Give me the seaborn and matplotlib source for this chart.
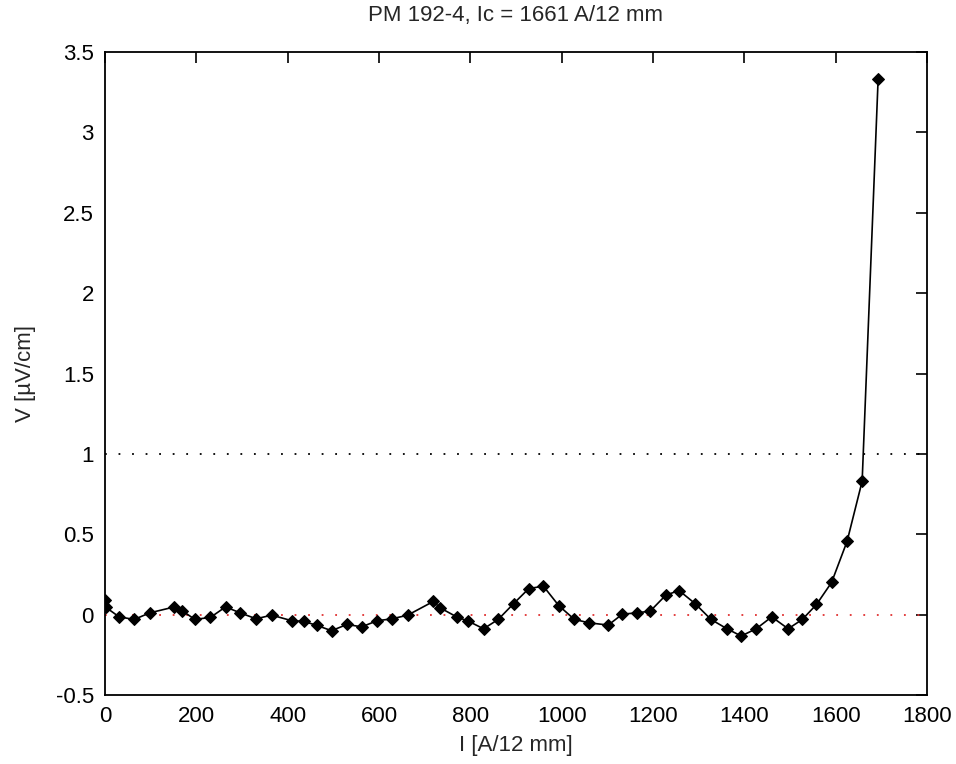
import matplotlib
matplotlib.use("Agg")
import matplotlib.pyplot as plt
import seaborn as sns
import pandas as pd

current = [0, 2, 31, 64, 98, 152, 169, 197, 231, 264, 296, 331, 365, 409, 435,
           464, 496, 530, 562, 596, 629, 663, 719, 734, 770, 795, 829, 861, 895,
           928, 960, 994, 1028, 1060, 1102, 1133, 1165, 1194, 1228, 1257, 1292,
           1327, 1362, 1393, 1426, 1460, 1496, 1527, 1558, 1591, 1625, 1658, 1693]
voltage = [0.094, 0.045, -0.014, -0.03, 0.011, 0.048, 0.024, -0.03, -0.017, 0.048,
           0.011, -0.026, -0.003, -0.038, -0.042, -0.067, -0.1, -0.061, -0.076,
           -0.038, -0.026, -0.003, 0.082, 0.042, -0.014, -0.04, -0.088, -0.03,
           0.069, 0.162, 0.177, 0.055, -0.03, -0.051, -0.065, 0.003, 0.011, 0.022,
           0.121, 0.15, 0.069, -0.03, -0.088, -0.133, -0.088, -0.014, -0.088,
           -0.03, 0.063, 0.2, 0.456, 0.83, 3.334]
criterion = 1.0
baseline = 0.0
x_ticks = [0, 200, 400, 600, 800, 1000, 1200, 1400, 1600, 1800]
y_ticks = [-0.5, 0, 0.5, 1, 1.5, 2, 2.5, 3, 3.5]
y_tick_labels = ["-0.5", "0", "0.5", "1", "1.5", "2", "2.5", "3", "3.5"]
title = "PM 192-4, Ic = 1661 A/12 mm"
xlabel = "I [A/12 mm]"
ylabel = "V [\u00b5V/cm]"

sns.set_style("white")
plt.rcParams['font.family'] = ['Liberation Sans', 'DejaVu Sans']
plt.rcParams['font.size'] = 16

df = pd.DataFrame({"I": current, "V": voltage})

fig = plt.figure(figsize=(9.56, 7.64), dpi=100)
ax = fig.add_axes([105/956, 1-695/764, (927-105)/956, (695-52)/764])

ax.axhline(criterion, color="black", linestyle=(0, (1, 6.5)), linewidth=1.3, zorder=1)
ax.axhline(baseline, color="#e03030", linestyle=(0, (1, 6.5)), linewidth=1.3, zorder=1)

sns.lineplot(data=df, x="I", y="V", ax=ax, sort=False, estimator=None,
             color="black", linewidth=1.2, marker="D", markersize=6,
             markeredgecolor="black", markerfacecolor="black", zorder=3)

ax.set_xlim(0, 1800)
ax.set_ylim(-0.5, 3.5)
ax.set_xticks(x_ticks)
ax.set_xticklabels([str(t) for t in x_ticks])
ax.set_yticks(y_ticks)
ax.set_yticklabels(y_tick_labels)
ax.tick_params(direction="in", length=8, width=1.2, top=True, right=True,
               labelsize=16, colors="black", pad=8)
for s in ax.spines.values():
    s.set_visible(True)
    s.set_color("black")
    s.set_linewidth(1.3)

ax.set_title(title, fontsize=16, pad=22)
ax.set_xlabel(xlabel, fontsize=16, labelpad=6)
ax.set_ylabel(ylabel, fontsize=16, labelpad=14)

fig.savefig("out.png", dpi=100, facecolor="white")
